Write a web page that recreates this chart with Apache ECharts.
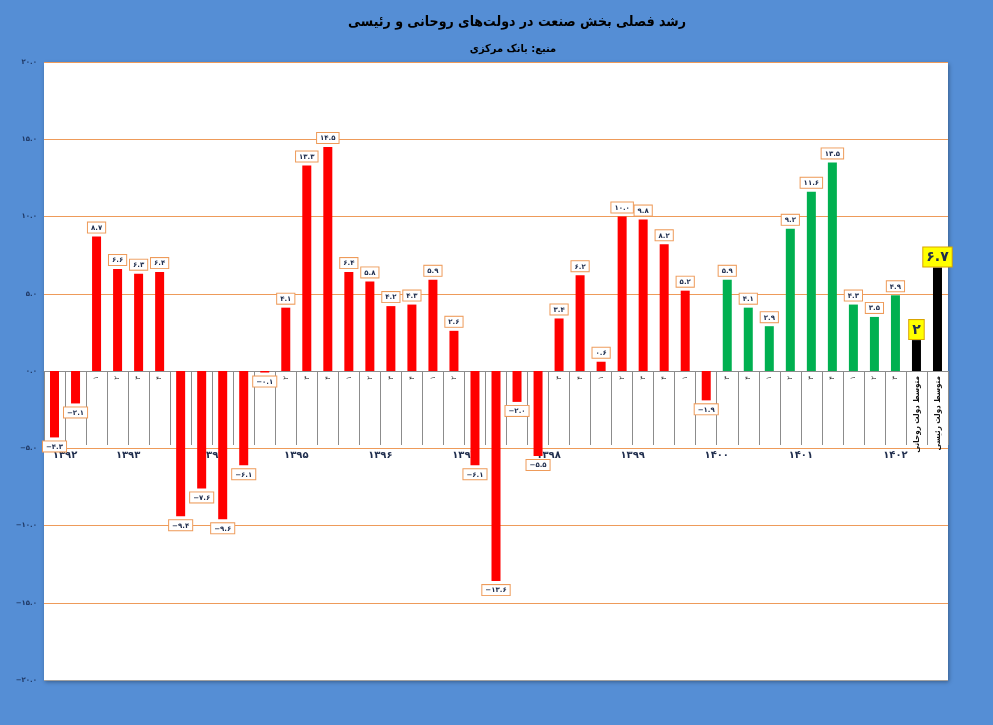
<!DOCTYPE html>
<html>
<head>
<meta charset="utf-8">
<script src="https://cdn.jsdelivr.net/npm/echarts@6/dist/echarts.min.js"></script>
<style>
html,body{margin:0;padding:0;background:#558ED5;}
#c{width:993px;height:725px;}
</style>
</head>
<body>
<div id="c"></div>
<script>
// ---- data ----
const categories = [
  '۳','۴',
  '۱','۲','۳','۴',
  '۱','۲','۳','۴',
  '۱','۲','۳','۴',
  '۱','۲','۳','۴',
  '۱','۲','۳','۴',
  '۱','۲','۳','۴',
  '۱','۲','۳','۴',
  '۱','۲','۳','۴',
  '۱','۲','۳','۴',
  '۱','۲','۳',
  'متوسط دولت روحانی','متوسط دولت رئیسی'
];
const years = ['۱۳۹۲','۱۳۹۳','۱۳۹۴','۱۳۹۵','۱۳۹۶','۱۳۹۷','۱۳۹۸','۱۳۹۹','۱۴۰۰','۱۴۰۱','۱۴۰۲'];
const quartersPerYear = [2,4,4,4,4,4,4,4,4,4,3];
const rouhaniGrowth = [-4.3,-2.1, 8.7,6.6,6.3,6.4, -9.4,-7.6,-9.6,-6.1, -0.1,4.1,13.3,14.5,
  6.4,5.8,4.2,4.3, 5.9,2.6,-6.1,-13.6, -2.0,-5.5,3.4,6.2, 0.6,10.0,9.8,8.2, 5.2,-1.9];
const raisiGrowth = [5.9,4.1, 2.9,9.2,11.6,13.5, 4.3,3.5,4.9];
const governmentAverages = [2, 6.7];
const yTicks = [-20,-15,-10,-5,0,5,10,15,20];

// ---- helpers ----
const faDigits = '۰۱۲۳۴۵۶۷۸۹';
const toFa = s => String(s).replace(/[0-9]/g, d => faDigits[d]).replace('-', '−');
const N = categories.length;
const nR = rouhaniGrowth.length, nG = raisiGrowth.length;

function build(values, start) {
  const arr = new Array(N).fill(null);
  values.forEach((v, i) => {
    arr[start + i] = { value: v, label: { position: v < 0 ? 'bottom' : 'top' } };
  });
  return arr;
}
const redData = build(rouhaniGrowth, 0);
const greenData = build(raisiGrowth, nR);
const blackData = build(governmentAverages, nR + nG);

// year boundaries / centres (last year segment extends to end of axis)
const bounds = [0];
quartersPerYear.forEach(q => bounds.push(bounds[bounds.length - 1] + q));
bounds[bounds.length - 1] = N;
const centers = years.map((y, i) => (bounds[i] + bounds[i + 1]) / 2);

const GRID_TOP = 62, GRID_BOTTOM = 45, H = 725;
const plotH = H - GRID_TOP - GRID_BOTTOM;
const zeroFromBottom = plotH / 2;               // y = 0 is mid-range (-20..20)
const minus5FromBottom = plotH * 15 / 40;        // y = -5

const ORANGE = '#EE9B5A';
const FONT = 'DejaVu Sans';
const CFONT = '"DejaVu Sans Condensed", "DejaVu Sans"';
const numLabel = {
  show: true,
  formatter: p => toFa(p.value.toFixed(1)),
  fontFamily: FONT, fontSize: 7, fontWeight: 'bold', color: '#1F2D4D',
  backgroundColor: '#ffffff', borderColor: ORANGE, borderWidth: 1,
  padding: [2, 3, 1, 3], distance: 4
};

const chart = echarts.init(document.getElementById('c'), null, { renderer: 'canvas' });
chart.setOption({
  backgroundColor: '#558ED5',
  animation: false,
  title: [
    { text: 'رشد فصلی بخش صنعت در دولت‌های روحانی و رئیسی', left: 512, top: 10, textAlign: 'center',
      textStyle: { fontFamily: CFONT, fontSize: 14, fontWeight: 'bold', color: '#000' } },
    { text: 'منبع: بانک مرکزی', left: 508, top: 39, textAlign: 'center',
      textStyle: { fontFamily: CFONT, fontSize: 11, fontWeight: 'bold', color: '#000' } }
  ],
  grid: { left: 44, right: 45, top: GRID_TOP, bottom: GRID_BOTTOM, containLabel: false,
    outerBoundsMode: 'none', show: true, backgroundColor: '#ffffff',
    borderWidth: 0, shadowColor: 'rgba(0,0,0,0.35)', shadowBlur: 4, shadowOffsetX: 1, shadowOffsetY: 2 },
  xAxis: [
    {
      type: 'category', data: categories, gridIndex: 0, position: 'bottom', offset: -zeroFromBottom,
      axisLine: { onZero: false, lineStyle: { color: '#8C8C8C', width: 1 } },
      axisTick: { show: true, interval: 0, length: 74, lineStyle: { color: '#8C8C8C' } },
      axisLabel: {
        interval: 0, rotate: 90, margin: 5,
        fontFamily: FONT, fontSize: 7, color: '#333',
        formatter: (v, i) => i >= nR + nG ? '{b|' + v + '}' : v,
        rich: { b: { fontFamily: CFONT, fontSize: 8, fontWeight: 'bold', color: '#111' } }
      },
      splitLine: { show: false }
    },
    {
      type: 'value', gridIndex: 0, min: 0, max: N, position: 'bottom', offset: -minus5FromBottom,
      axisLine: { show: false },
      splitLine: { show: false },
      axisTick: { show: true, customValues: bounds, length: 22, lineStyle: { color: '#8C8C8C' } },
      axisLabel: {
        customValues: centers, margin: 2,
        fontFamily: FONT, fontSize: 10, fontWeight: 'bold', color: '#1F2D4D',
        formatter: v => years[centers.indexOf(v)]
      }
    }
  ],
  yAxis: {
    type: 'value', min: -20, max: 20, interval: 5,
    axisLine: { show: false }, axisTick: { show: false },
    axisLabel: { fontFamily: FONT, fontSize: 7, fontWeight: 'bold', color: '#1F3864', margin: 7,
      formatter: v => toFa(v.toFixed(1)) },
    splitLine: { show: true, lineStyle: { width: 1,
      color: yTicks.map(t => t === -20 ? '#A0A0A0' : ORANGE) } }
  },
  series: [
    { type: 'bar', xAxisIndex: 0, data: redData, barWidth: 9, barGap: '-100%',
      itemStyle: { color: '#FF0000' }, label: numLabel },
    { type: 'bar', xAxisIndex: 0, data: greenData, barWidth: 9, barGap: '-100%',
      itemStyle: { color: '#00B050' }, label: numLabel },
    { type: 'bar', xAxisIndex: 0, data: blackData, barWidth: 9, barGap: '-100%',
      itemStyle: { color: '#000000' },
      label: { show: true, formatter: p => toFa(String(p.value)),
        fontFamily: FONT, fontSize: 14, fontWeight: 'bold', color: '#1F2D4D',
        backgroundColor: '#FFFF00', borderColor: '#D9A400', borderWidth: 1,
        padding: [3, 3, 2, 3], distance: 1 } }
  ]
});
</script>
</body>
</html>
